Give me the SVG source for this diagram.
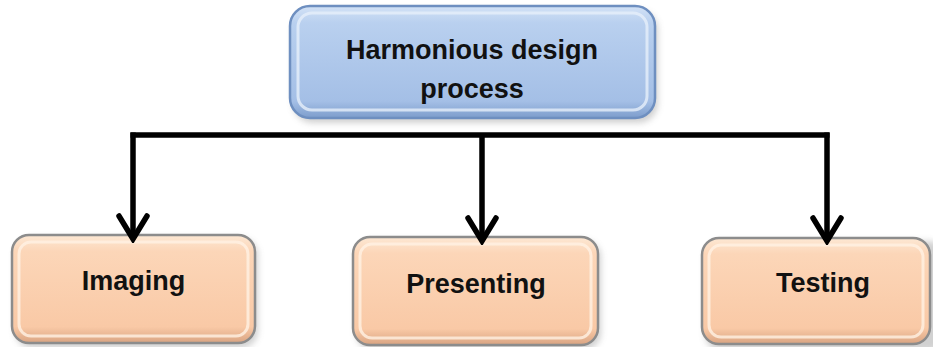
<svg xmlns="http://www.w3.org/2000/svg" width="933" height="347" viewBox="0 0 933 347">
  <defs>
    <linearGradient id="blueFill" x1="0" y1="0" x2="0" y2="1">
      <stop offset="0" stop-color="#d3e2f6"/>
      <stop offset="0.15" stop-color="#b9d0ef"/>
      <stop offset="0.85" stop-color="#a4bfe6"/>
      <stop offset="1" stop-color="#7d9dcc"/>
    </linearGradient>
    <linearGradient id="peachFill" x1="0" y1="0" x2="0" y2="1">
      <stop offset="0" stop-color="#fde8d4"/>
      <stop offset="0.15" stop-color="#fcd6b8"/>
      <stop offset="0.85" stop-color="#f9c9a6"/>
      <stop offset="1" stop-color="#d9a482"/>
    </linearGradient>
    <filter id="blur" x="-20%" y="-20%" width="140%" height="140%">
      <feGaussianBlur stdDeviation="3"/>
    </filter>
    <filter id="lineShadow" x="-5%" y="-200%" width="110%" height="500%">
      <feGaussianBlur stdDeviation="4"/>
    </filter>
    <marker id="chev" viewBox="0 0 30 34" refX="26" refY="17" markerWidth="30" markerHeight="34" markerUnits="userSpaceOnUse" orient="auto">
      <path d="M3,3 L26,17 L3,31" fill="none" stroke="#000" stroke-width="5.5" stroke-linejoin="miter" stroke-linecap="round"/>
    </marker>
  </defs>
  <style>
    .lbl { font-family: "Liberation Sans", Arial, sans-serif; font-weight: bold; font-size: 27px; fill: #111; text-anchor: middle; }
    .blueOuter { fill: url(#blueFill); stroke: #6e8fc0; stroke-width: 2.5; }
    .peachOuter { fill: url(#peachFill); stroke: #8c8c8c; stroke-width: 2.5; }
    .hiBlue { fill: none; stroke: #e6effa; stroke-width: 3; opacity: 0.8; }
    .hiPeach { fill: none; stroke: #fff1e3; stroke-width: 3; opacity: 0.8; }
    .conn { fill: none; stroke: #000; stroke-width: 5.5; }
    .shadowBox { fill: #9a9a9a; opacity: 0.45; }
  </style>

  <rect width="933" height="347" fill="#ffffff"/>

  <!-- top node -->
  <g id="node-harmonious">
    <rect class="shadowBox" x="293" y="10" width="365" height="113" rx="20" filter="url(#blur)"/>
    <rect class="blueOuter" x="290" y="6" width="365" height="112" rx="20"/>
    <rect class="hiBlue" x="298" y="13" width="349" height="97" rx="14"/>
    <text class="lbl" x="472" y="59">Harmonious design</text>
    <text class="lbl" x="472" y="98">process</text>
  </g>

  <!-- Imaging -->
  <g id="node-imaging">
    <rect class="shadowBox" x="15" y="238" width="243" height="110" rx="17" filter="url(#blur)"/>
    <rect class="peachOuter" x="12" y="235" width="243" height="108" rx="17"/>
    <rect class="hiPeach" x="19" y="242" width="229" height="94" rx="12"/>
    <text class="lbl" x="133.5" y="290">Imaging</text>
  </g>

  <!-- Presenting -->
  <g id="node-presenting">
    <rect class="shadowBox" x="356" y="240" width="245" height="110" rx="17" filter="url(#blur)"/>
    <rect class="peachOuter" x="353" y="237" width="245" height="108" rx="17"/>
    <rect class="hiPeach" x="360" y="244" width="231" height="94" rx="12"/>
    <text class="lbl" x="476" y="293">Presenting</text>
  </g>

  <!-- Testing -->
  <g id="node-testing">
    <rect class="shadowBox" x="705" y="241" width="240" height="110" rx="17" filter="url(#blur)"/>
    <rect class="peachOuter" x="702" y="238" width="228" height="106" rx="17"/>
    <rect class="hiPeach" x="709" y="245" width="214" height="92" rx="12"/>
    <text class="lbl" x="823" y="292">Testing</text>
  </g>

  <!-- connectors -->
  <g id="connectors">
    <path d="M133,142 H827" stroke="#777" stroke-width="8" opacity="0.55" filter="url(#lineShadow)" fill="none"/>
    <path class="conn" d="M130.5,135 H829.5"/>
    <path class="conn" d="M133,132.5 V239" marker-end="url(#chev)"/>
    <path class="conn" d="M482,135 V241" marker-end="url(#chev)"/>
    <path class="conn" d="M827,132.5 V241" marker-end="url(#chev)"/>
  </g>
</svg>
